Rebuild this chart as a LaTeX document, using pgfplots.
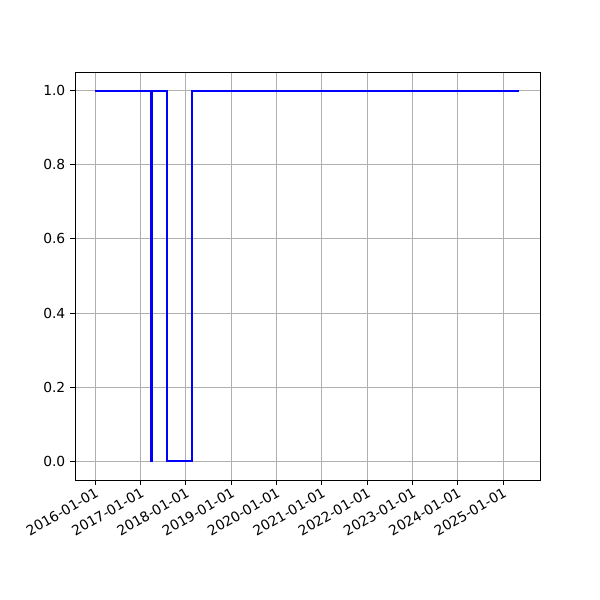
\documentclass[border=0pt]{standalone}
\usepackage{fontspec}
\setmainfont{DejaVu Sans}
\usepackage{pgfplots}
\pgfplotsset{compat=1.18}
\begin{document}
\begin{tikzpicture}
\begin{axis}[
  scale only axis, width=4.65in, height=4.08in,
  xmin=-161, xmax=3586, ymin=-0.05, ymax=1.05,
  xtick={0,366,731,1096,1461,1827,2192,2557,2922,3288},
  xticklabels={2016-01-01,2017-01-01,2018-01-01,2019-01-01,2020-01-01,2021-01-01,2022-01-01,2023-01-01,2024-01-01,2025-01-01},
  xticklabel style={rotate=30, anchor=north east, font=\fontsize{10}{12}\selectfont, inner sep=1pt},
  ytick={0,0.2,0.4,0.6,0.8,1.0},
  yticklabel style={font=\fontsize{10}{12}\selectfont},
  /pgf/number format/assume math mode=true,
  yticklabel={\pgfmathprintnumber[fixed,fixed zerofill,precision=1]{\tick}},
  xmajorgrids, ymajorgrids,
  grid style={color=black!31, line width=0.6pt},
  axis line style={line width=0.6pt}, tick style={color=black, line width=0.6pt},
  tick align=outside, major tick length=3.5pt,
  xtick pos=lower, ytick pos=left,
]
\addplot[color=blue, line width=1.5pt, mark=none, const plot mark left] table {
x y
0 1
451 0
459 1
578 0
784 1
3417 1
};
\end{axis}
\path (current axis.south west) ++(-0.75in,-1.2in) rectangle ++(6in,6in);
\end{tikzpicture}
\end{document}
